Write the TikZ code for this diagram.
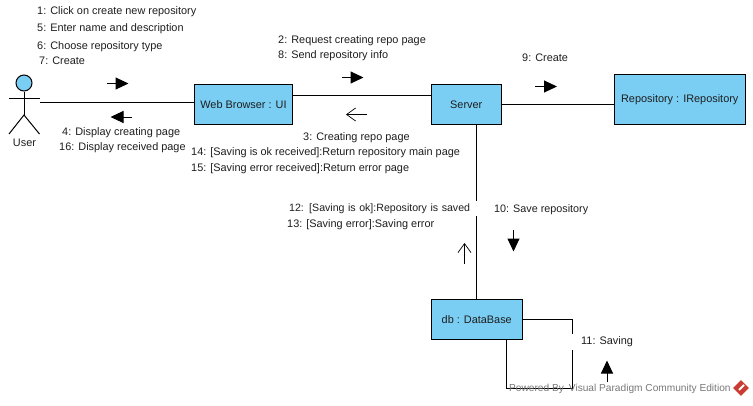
\documentclass[tikz,border=0pt]{standalone}
\usepackage{fontspec}
\setmainfont{Liberation Sans}
\usepackage{xcolor}
\usetikzlibrary{arrows.meta, positioning, shapes.geometric}
\definecolor{boxblue}{RGB}{122, 206, 244}
\definecolor{inkdark}{RGB}{30, 30, 30}
\definecolor{stampgray}{RGB}{120, 120, 120}
\definecolor{stampred}{RGB}{200, 60, 50}

\begin{document}
\begin{tikzpicture}[x=1pt, y=-1pt,
  lifeline/.style={draw=black, line width=1pt},
  objbox/.style={draw=black, fill=boxblue, line width=1pt, font=\fontsize{10.9}{13}\selectfont, text=inkdark, inner sep=0pt, align=center},
  msglabel/.style={anchor=west, inner sep=0pt, font=\fontsize{10.9}{12}\selectfont, text=inkdark},
  gaplabel/.style={msglabel, fill=white, inner ysep=3pt, inner xsep=2pt},
  sendarrow/.style={-{Triangle[length=13pt, width=12pt]}, line width=1pt},
  replyarrow/.style={-{Straight Barb[length=9pt, width=13pt, line width=0.7pt]}, line width=0.8pt}]

  \useasboundingbox (0,0) rectangle (753,405);

  % actor
  \node[circle, draw=black, fill=boxblue, line width=1pt, minimum size=16pt, inner sep=0pt] (head) at (24,83) {};
  \coordinate (hip) at (24,115);
  \coordinate (armL) at (9,98.5);
  \coordinate (armR) at (39.5,98.5);
  \coordinate (footL) at (9,134);
  \coordinate (footR) at (39.5,134);
  \draw[lifeline] (head.south) -- (hip);
  \draw[lifeline] (armL) -- (armR);
  \draw[lifeline] (footL) -- (hip) -- (footR);
  \node[msglabel, anchor=center] (user) at (24.5,143) {User};
  \coordinate (actorhand) at (40,102.5);

  % objects
  \node[objbox, minimum width=97.5pt, minimum height=40pt] (browser) at (243.5,104.5) {Web Browser : UI};
  \node[objbox, minimum width=70pt, minimum height=40pt, right=138pt of browser] (server) {Server};
  \node[objbox, minimum width=131pt, minimum height=50pt, right=112pt of server.south east, anchor=south west] (repo) {Repository : IRepository};
  \node[objbox, minimum width=91pt, minimum height=40pt, below=174pt of server.south west, anchor=north west] (db) {db : DataBase};

  % links
  \draw[lifeline] (actorhand) -- (actorhand -| browser.west);
  \draw[lifeline] ([yshift=9pt]browser.east) -- ([yshift=9pt]server.west);
  \draw[lifeline] (server.east) -- (server.east -| repo.west);
  \coordinate (serverdrop) at ([xshift=10.5pt]server.south);
  \draw[lifeline] (serverdrop) -- (serverdrop |- db.north);
  \coordinate (loopA) at (572.5,319);
  \coordinate (loopB) at (572.5,388);
  \coordinate (loopC) at (506.5,388);
  \draw[lifeline] (db.east |- loopA) -- (loopA) -- (loopB) -- (loopC) -- (loopC |- db.south);

  % message labels
  \node[msglabel] (m1) at (37,11.5) {1: Click on create new repository};
  \node[msglabel] (m5) at (37,28.5) {5: Enter name and description};
  \node[msglabel] (m6) at (37,46.5) {6: Choose repository type};
  \node[msglabel] (m7) at (39,61) {7: Create};
  \node[msglabel] (m2) at (278,41) {2: Request creating repo page};
  \node[msglabel] (m8) at (278,56) {8: Send repository info};
  \node[msglabel] (m9) at (522,57.5) {9: Create};
  \node[msglabel] (m4) at (62,133) {4: Display creating page};
  \node[msglabel] (m16) at (59,148) {16: Display received page};
  \node[msglabel] (m3) at (303,138) {3: Creating repo page};
  \node[msglabel] (m14) at (191,153) {14: [Saving is ok received]:Return repository main page};
  \node[msglabel] (m15) at (191,169) {15: [Saving error received]:Return error page};
  \node[gaplabel, text width=187pt, font=\fontsize{10.6}{12}\selectfont] (m12) at (287,208.5) {12: [Saving is ok]:Repository is saved};
  \node[msglabel] (m13) at (287,225) {13: [Saving error]:Saving error};
  \node[msglabel, font=\fontsize{10.8}{12}\selectfont] (m10) at (494,210) {10: Save repository};
  \node[gaplabel] (m11) at (570,342) {\hspace{9pt}11: Saving};

  % message arrows
  \coordinate (a1s) at (107,83.5);   \coordinate (a1e) at (128.5,83.5);
  \coordinate (a4s) at (132,117);    \coordinate (a4e) at (110.5,117);
  \coordinate (a2s) at (342,77.5);   \coordinate (a2e) at (363.5,77.5);
  \coordinate (a3s) at (367,114.5);  \coordinate (a3e) at (346,114.5);
  \coordinate (a9s) at (535,86.5);   \coordinate (a9e) at (557,86.5);
  \coordinate (a10s) at (513.5,230); \coordinate (a10e) at (513.5,251.5);
  \coordinate (a12s) at (464.5,264); \coordinate (a12e) at (464.5,243);
  \coordinate (a11s) at (607,382);   \coordinate (a11e) at (607,360.5);
  \draw[sendarrow] (a1s) -- (a1e);
  \draw[sendarrow] (a4s) -- (a4e);
  \draw[sendarrow] (a2s) -- (a2e);
  \draw[replyarrow] (a3s) -- (a3e);
  \draw[sendarrow] (a9s) -- (a9e);
  \draw[sendarrow] (a10s) -- (a10e);
  \draw[replyarrow] (a12s) -- (a12e);
  \draw[sendarrow] (a11s) -- (a11e);

  % edition stamp
  \node[anchor=west, inner sep=0pt, font=\fontsize{10.15}{12}\selectfont, text=stampgray] (stamp) at (509,389) {Powered By\hspace{5pt}Visual Paradigm Community Edition};
  \node[diamond, fill=stampred, minimum size=16pt, inner sep=0pt] (logo) at (741,388) {};
  \draw[white, line width=2pt] ([shift={(-2,2)}]logo.center) -- ++(5,-5);
\end{tikzpicture}
\end{document}
